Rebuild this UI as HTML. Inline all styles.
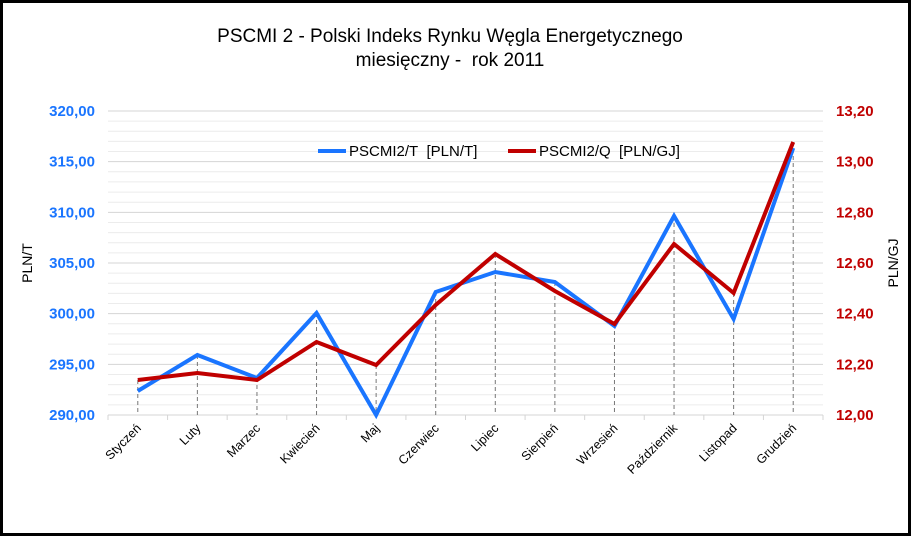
<!DOCTYPE html>
<html><head><meta charset="utf-8"><style>
body{margin:0;background:#fff}
svg{display:block;font-family:"Liberation Sans",Arial,sans-serif}
</style></head><body>
<svg width="912" height="538" xmlns="http://www.w3.org/2000/svg">
<rect x="1.5" y="1.5" width="908" height="533" fill="#fff" stroke="#000" stroke-width="3"/>
<text x="450" y="42" font-size="19" text-anchor="middle">PSCMI 2 - Polski Indeks Rynku Węgla Energetycznego</text>
<text x="450" y="66" font-size="19" text-anchor="middle">miesięczny -&#160; rok 2011</text>
<script>
(function(){
var s="http://www.w3.org/2000/svg",svg=document.querySelector('svg');
function el(t,a,txt){var e=document.createElementNS(s,t);for(var k in a)e.setAttribute(k,a[k]);if(txt!=null)e.textContent=txt;svg.appendChild(e);return e;}
var L=108,R=823,T=111,B=415;
for(var i=0;i<=30;i++){var y=B-i*(B-T)/30;el('line',{x1:L,x2:R,y1:y,y2:y,stroke:i%5==0?'#d4d4d4':'#ececec','stroke-width':1});}
var ll=['320,00','315,00','310,00','305,00','300,00','295,00','290,00'],rl=['13,20','13,00','12,80','12,60','12,40','12,20','12,00'];
for(var i=0;i<7;i++){var y=T+i*(B-T)/6+5;el('text',{x:95,y:y,'font-size':15,'font-weight':'bold',fill:'#1a75ff','text-anchor':'end'},ll[i]);el('text',{x:836,y:y,'font-size':15,'font-weight':'bold',fill:'#c00000'},rl[i]);}
var sp=(R-L)/12;
for(var i=0;i<=12;i++){var x=L+i*sp;el('line',{x1:x,x2:x,y1:B,y2:B+5,stroke:'#d4d4d4'});}
var m=['Styczeń','Luty','Marzec','Kwiecień','Maj','Czerwiec','Lipiec','Sierpień','Wrzesień','Październik','Listopad','Grudzień'];
var b=[391,355,378,313,415,292,272,282,326,216,319,148],r=[380,373,380,342,365,305,254,291,324,244,293,142];
var pb=[],pr=[];
for(var i=0;i<12;i++){var x=L+sp/2+i*sp;var ty=Math.min(b[i],r[i]);
el('line',{x1:x,x2:x,y1:ty,y2:B,stroke:'#777','stroke-dasharray':'4,3'});
pb.push(x+','+b[i]);pr.push(x+','+r[i]);
el('text',{x:x+4,y:B+14,'font-size':12.5,'text-anchor':'end',transform:'rotate(-45 '+(x+4)+' '+(B+14)+')'},m[i]);}
el('polyline',{points:pb.join(' '),fill:'none',stroke:'#1a75ff','stroke-width':4});
el('polyline',{points:pr.join(' '),fill:'none',stroke:'#c00000','stroke-width':4});
el('text',{x:32,y:263,'font-size':14,'text-anchor':'middle',transform:'rotate(-90 32 263)'},'PLN/T');
el('text',{x:898,y:263,'font-size':14,'text-anchor':'middle',transform:'rotate(-90 898 263)'},'PLN/GJ');
el('line',{x1:318,x2:346,y1:151,y2:151,stroke:'#1a75ff','stroke-width':4});
el('text',{x:349,y:156,'font-size':15},'PSCMI2/T\u00a0\u00a0[PLN/T]');
el('line',{x1:508,x2:536,y1:151,y2:151,stroke:'#c00000','stroke-width':4});
el('text',{x:539,y:156,'font-size':15},'PSCMI2/Q\u00a0\u00a0[PLN/GJ]');
})();
</script>
</svg>
</body></html>
